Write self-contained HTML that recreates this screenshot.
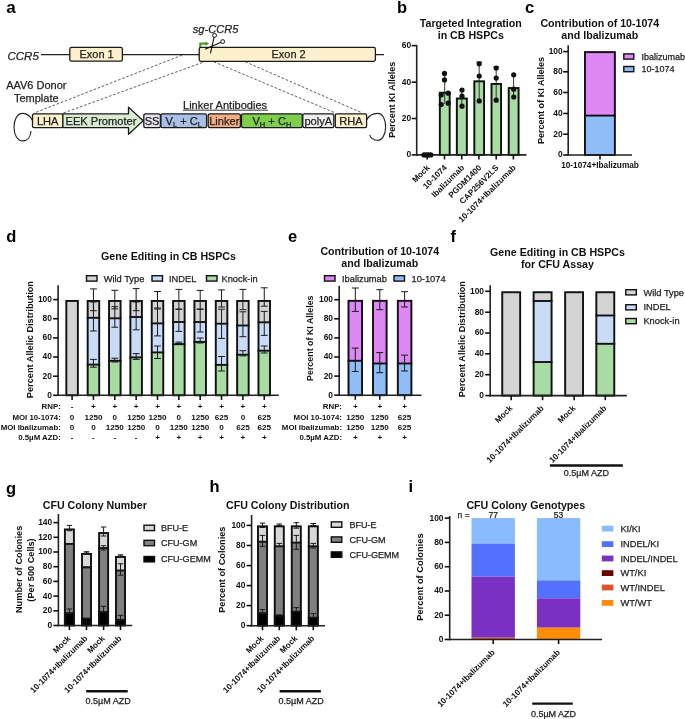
<!DOCTYPE html>
<html><head><meta charset="utf-8"><style>
html,body{margin:0;padding:0;background:#fff;}
svg{display:block;font-family:"Liberation Sans", sans-serif;will-change:transform;}
</style></head><body>
<svg width="685" height="719" viewBox="0 0 685 719">
<text x="6.2" y="13.2" font-size="17" font-weight="bold" text-anchor="start" fill="#000" >a</text>
<text x="7.5" y="60" font-size="11.5" font-style="italic" text-anchor="start" fill="#222" stroke="#222" stroke-width="0.25" >CCR5</text>
<line x1="41" y1="54.6" x2="384" y2="54.6" stroke="#222" stroke-width="1.1" />
<rect x="69.8" y="47.4" width="52.6" height="13.8" fill="#fdf0cc" stroke="#1a1a1a" stroke-width="1.3" rx="1.8"/>
<text x="96.6" y="58.1" font-size="11" text-anchor="middle" fill="#222" stroke="#222" stroke-width="0.25" >Exon 1</text>
<line x1="182" y1="55.2" x2="33.8" y2="113.2" stroke="#333" stroke-width="0.8" stroke-dasharray="2.6,1.8"/>
<line x1="202.4" y1="62.5" x2="62.9" y2="113.2" stroke="#333" stroke-width="0.8" stroke-dasharray="2.6,1.8"/>
<line x1="213.8" y1="61.8" x2="334.5" y2="112.6" stroke="#333" stroke-width="0.8" stroke-dasharray="2.6,1.8"/>
<line x1="245.3" y1="61.8" x2="361.5" y2="112.6" stroke="#333" stroke-width="0.8" stroke-dasharray="2.6,1.8"/>
<rect x="199.2" y="47.4" width="176.2" height="13.9" fill="#fdf0cc" stroke="#1a1a1a" stroke-width="1.3" rx="1.8"/>
<text x="288.6" y="58.1" font-size="11" text-anchor="middle" fill="#222" stroke="#222" stroke-width="0.25" >Exon 2</text>
<text x="192.8" y="32.9" font-size="11.1" font-style="italic" text-anchor="start" fill="#222" stroke="#222" stroke-width="0.25" >sg-CCR5</text>
<path d="M200.3,47 L200.3,43.6 L206,43.6" fill="none" stroke="#4e9a2e" stroke-width="2.2"/>
<path d="M205.5,41.4 L209.2,43.6 L205.5,45.8 Z" fill="#4e9a2e"/>
<path d="M210.4,53.3 L214.1,37.1" fill="none" stroke="#111" stroke-width="1.1"/>
<path d="M205,49.3 L221.1,42.3" fill="none" stroke="#111" stroke-width="1.1"/>
<circle cx="214.6" cy="35.4" r="1.95" fill="#fff" stroke="#111" stroke-width="1"/>
<circle cx="222.7" cy="41.6" r="1.95" fill="#fff" stroke="#111" stroke-width="1"/>
<text x="36.3" y="88.8" font-size="11" text-anchor="middle" fill="#222" stroke="#222" stroke-width="0.25" >AAV6 Donor</text>
<text x="36.3" y="102.2" font-size="11" text-anchor="middle" fill="#222" stroke="#222" stroke-width="0.25" >Template</text>
<text x="183" y="108.6" font-size="11.05" text-anchor="start" fill="#222" stroke="#222" stroke-width="0.25" >Linker Antibodies</text>
<line x1="183" y1="110.2" x2="268" y2="110.2" stroke="#222" stroke-width="0.9" />
<path d="M32.3,120.3 C30,115.5 26.5,113.4 22.8,113.4 C17,113.4 14,120 14,127.2 C14,135 17.5,140.9 22.8,140.9 C27.5,140.9 30.6,137 31,131" fill="none" stroke="#222" stroke-width="1.1"/>
<path d="M366.8,119.8 C369,115.5 373.5,113.4 377.6,113.4 C383,113.4 385.6,120 385.6,127 C385.6,135 382,140.3 377.6,140.3 C373.6,140.3 370.8,138 369.6,134.9" fill="none" stroke="#222" stroke-width="1.1"/>
<rect x="32.5" y="113.8" width="30.4" height="13.8" fill="#fdf0cc" stroke="#1a1a1a" stroke-width="1.3" rx="1.6"/>
<text x="47.7" y="124.6" font-size="11.1" text-anchor="middle" fill="#222" stroke="#222" stroke-width="0.25" >LHA</text>
<path d="M62.9,113.8 L128.5,113.8 L128.5,107.2 L143.2,120.7 L128.5,134.2 L128.5,127.6 L62.9,127.6 Z" fill="#d8ecd2" stroke="#1a1a1a" stroke-width="1.3" stroke-linejoin="round"/>
<text x="65.5" y="124.6" font-size="11.1" text-anchor="start" fill="#222" stroke="#222" stroke-width="0.25" >EEK Promoter</text>
<rect x="143.8" y="113.8" width="16.6" height="13.8" fill="#e7e1f1" stroke="#1a1a1a" stroke-width="1.3" rx="1.6"/>
<text x="152.1" y="124.6" font-size="11.1" text-anchor="middle" fill="#222" stroke="#222" stroke-width="0.25" >SS</text>
<rect x="160.9" y="113.8" width="45.7" height="13.8" fill="#a9bfe6" stroke="#1a1a1a" stroke-width="1.3" rx="1.6"/>
<text x="183.7" y="124.6" font-size="11.1" text-anchor="middle" fill="#222" stroke="#222" stroke-width="0.25" >V<tspan font-size="7.5" dy="2.2">L</tspan><tspan dy="-2.2"> + C</tspan><tspan font-size="7.5" dy="2.2">L</tspan></text>
<rect x="208.2" y="113.8" width="32.2" height="13.8" fill="#f5ae82" stroke="#1a1a1a" stroke-width="1.3" rx="1.6"/>
<text x="224.3" y="124.6" font-size="11.1" text-anchor="middle" fill="#222" stroke="#222" stroke-width="0.25" >Linker</text>
<rect x="241.5" y="113.8" width="60.8" height="13.8" fill="#7ecf4b" stroke="#1a1a1a" stroke-width="1.3" rx="1.6"/>
<text x="271.9" y="124.6" font-size="11.1" text-anchor="middle" fill="#222" stroke="#222" stroke-width="0.25" >V<tspan font-size="7.5" dy="2.2">H</tspan><tspan dy="-2.2"> + C</tspan><tspan font-size="7.5" dy="2.2">H</tspan></text>
<rect x="302.8" y="113.8" width="31" height="13.8" fill="#efefef" stroke="#1a1a1a" stroke-width="1.3" rx="1.6"/>
<text x="318.3" y="124.6" font-size="11.1" text-anchor="middle" fill="#222" stroke="#222" stroke-width="0.25" >polyA</text>
<rect x="335.3" y="113.8" width="31.3" height="13.8" fill="#fdf0cc" stroke="#1a1a1a" stroke-width="1.3" rx="1.6"/>
<text x="351" y="124.6" font-size="11.1" text-anchor="middle" fill="#222" stroke="#222" stroke-width="0.25" >RHA</text>
<text x="397" y="12.8" font-size="16.5" font-weight="bold" text-anchor="start" fill="#000" >b</text>
<text x="470.8" y="27.2" font-size="10.65" font-weight="bold" text-anchor="middle" fill="#111" >Targeted Integration</text>
<text x="470.8" y="38.6" font-size="10.65" font-weight="bold" text-anchor="middle" fill="#111" >in CB HSPCs</text>
<rect x="438.9" y="91.8" width="11.700000000000045" height="63.10000000000001" fill="#a8dca4" stroke="none"/>
<rect x="439.84999999999997" y="92.75" width="9.800000000000045" height="62.150000000000006" fill="none" stroke="#111" stroke-width="1.9"/>
<rect x="455.9" y="97.6" width="11.900000000000034" height="57.30000000000001" fill="#a8dca4" stroke="none"/>
<rect x="456.84999999999997" y="98.55" width="10.000000000000034" height="56.35000000000001" fill="none" stroke="#111" stroke-width="1.9"/>
<rect x="473.4" y="80.4" width="11.600000000000023" height="74.5" fill="#a8dca4" stroke="none"/>
<rect x="474.34999999999997" y="81.35000000000001" width="9.700000000000022" height="73.55" fill="none" stroke="#111" stroke-width="1.9"/>
<rect x="490.6" y="83" width="11.399999999999977" height="71.9" fill="#a8dca4" stroke="none"/>
<rect x="491.55" y="83.95" width="9.499999999999977" height="70.95" fill="none" stroke="#111" stroke-width="1.9"/>
<rect x="507.8" y="87.1" width="11.699999999999989" height="67.80000000000001" fill="#a8dca4" stroke="none"/>
<rect x="508.75" y="88.05" width="9.799999999999988" height="66.85000000000001" fill="none" stroke="#111" stroke-width="1.9"/>
<line x1="444.7" y1="74" x2="444.7" y2="104" stroke="#222" stroke-width="0.9" />
<line x1="461.8" y1="90" x2="461.8" y2="105" stroke="#222" stroke-width="0.9" />
<line x1="479.2" y1="62" x2="479.2" y2="101" stroke="#222" stroke-width="0.9" />
<line x1="496.2" y1="67" x2="496.2" y2="100" stroke="#222" stroke-width="0.9" />
<line x1="513.6" y1="74" x2="513.6" y2="98" stroke="#222" stroke-width="0.9" />
<line x1="476.2" y1="62" x2="482.2" y2="62" stroke="#222" stroke-width="0.9" />
<line x1="493.2" y1="66.9" x2="499.2" y2="66.9" stroke="#222" stroke-width="0.9" />
<line x1="416.7" y1="45" x2="416.7" y2="155.70000000000002" stroke="#222" stroke-width="1.6" />
<line x1="411.7" y1="45.6" x2="416.7" y2="45.6" stroke="#111" stroke-width="1.6" />
<text x="411.2" y="48.0" font-size="8.4" font-weight="bold" text-anchor="end" fill="#111" >60</text>
<line x1="411.7" y1="82.2" x2="416.7" y2="82.2" stroke="#111" stroke-width="1.6" />
<text x="411.2" y="84.60000000000001" font-size="8.4" font-weight="bold" text-anchor="end" fill="#111" >40</text>
<line x1="411.7" y1="118.5" x2="416.7" y2="118.5" stroke="#111" stroke-width="1.6" />
<text x="411.2" y="120.9" font-size="8.4" font-weight="bold" text-anchor="end" fill="#111" >20</text>
<line x1="411.7" y1="154.9" x2="416.7" y2="154.9" stroke="#111" stroke-width="1.6" />
<text x="411.2" y="157.3" font-size="8.4" font-weight="bold" text-anchor="end" fill="#111" >0</text>
<line x1="415.9" y1="154.9" x2="526.5" y2="154.9" stroke="#222" stroke-width="1.6" />
<line x1="427.2" y1="154.9" x2="427.2" y2="159.5" stroke="#111" stroke-width="1.6" />
<line x1="444.5" y1="154.9" x2="444.5" y2="159.5" stroke="#111" stroke-width="1.6" />
<line x1="461.7" y1="154.9" x2="461.7" y2="159.5" stroke="#111" stroke-width="1.6" />
<line x1="478.9" y1="154.9" x2="478.9" y2="159.5" stroke="#111" stroke-width="1.6" />
<line x1="496.2" y1="154.9" x2="496.2" y2="159.5" stroke="#111" stroke-width="1.6" />
<line x1="513.4" y1="154.9" x2="513.4" y2="159.5" stroke="#111" stroke-width="1.6" />
<circle cx="444.5" cy="73.4" r="2.6" fill="#111"/>
<circle cx="444.5" cy="79.9" r="2.6" fill="#111"/>
<circle cx="441.2" cy="95" r="2.6" fill="#111"/>
<circle cx="448.2" cy="93.2" r="2.6" fill="#111"/>
<circle cx="441.2" cy="104.6" r="2.6" fill="#111"/>
<circle cx="448.2" cy="103.2" r="2.6" fill="#111"/>
<circle cx="462" cy="90" r="2.6" fill="#111"/>
<circle cx="462" cy="96.2" r="2.6" fill="#111"/>
<circle cx="462" cy="106.2" r="2.6" fill="#111"/>
<circle cx="479.2" cy="63.8" r="2.6" fill="#111"/>
<circle cx="479.2" cy="76" r="2.6" fill="#111"/>
<circle cx="479.2" cy="100.9" r="2.6" fill="#111"/>
<circle cx="496.2" cy="68.1" r="2.6" fill="#111"/>
<circle cx="496.2" cy="78.1" r="2.6" fill="#111"/>
<circle cx="496.2" cy="100.2" r="2.6" fill="#111"/>
<circle cx="513.7" cy="74.8" r="2.6" fill="#111"/>
<circle cx="513.7" cy="89.2" r="2.6" fill="#111"/>
<circle cx="513.7" cy="97" r="2.6" fill="#111"/>
<circle cx="424" cy="154.9" r="2.6" fill="#111"/>
<circle cx="426.2" cy="154.9" r="2.6" fill="#111"/>
<circle cx="428.4" cy="154.9" r="2.6" fill="#111"/>
<circle cx="430.8" cy="154.9" r="2.6" fill="#111"/>
<text transform="translate(394.9,99.7) rotate(-90)" font-size="9.05" font-weight="bold" text-anchor="middle" fill="#111">Percent KI Alleles</text>
<text transform="translate(430.2,168.2) rotate(-45)" font-size="8.2" font-weight="bold" text-anchor="end" fill="#111">Mock</text>
<text transform="translate(447.5,168.2) rotate(-45)" font-size="8.2" font-weight="bold" text-anchor="end" fill="#111">10-1074</text>
<text transform="translate(464.7,168.2) rotate(-45)" font-size="8.2" font-weight="bold" text-anchor="end" fill="#111">Ibalizumab</text>
<text transform="translate(481.9,168.2) rotate(-45)" font-size="8.2" font-weight="bold" text-anchor="end" fill="#111">PGDM1400</text>
<text transform="translate(499.2,168.2) rotate(-45)" font-size="8.2" font-weight="bold" text-anchor="end" fill="#111">CAP256V2LS</text>
<text transform="translate(516.4,168.2) rotate(-45)" font-size="8.2" font-weight="bold" text-anchor="end" fill="#111">10-1074+Ibalizumab</text>
<text x="525" y="12.8" font-size="16.5" font-weight="bold" text-anchor="start" fill="#000" >c</text>
<text x="599.8" y="26.8" font-size="10.65" font-weight="bold" text-anchor="middle" fill="#111" >Contribution of 10-1074</text>
<text x="599.8" y="38.8" font-size="10.65" font-weight="bold" text-anchor="middle" fill="#111" >and Ibalizumab</text>
<rect x="584" y="115.6" width="31.799999999999955" height="39.400000000000006" fill="#8fbdf7" stroke="none"/>
<rect x="584" y="51.2" width="31.799999999999955" height="64.39999999999999" fill="#dd88f5" stroke="none"/>
<line x1="584" y1="115.6" x2="615.8" y2="115.6" stroke="#111" stroke-width="1.9" />
<rect x="584.95" y="52.150000000000006" width="29.899999999999956" height="102.85" fill="none" stroke="#111" stroke-width="1.9"/>
<line x1="568.2" y1="45.3" x2="568.2" y2="155.8" stroke="#222" stroke-width="1.6" />
<line x1="563.2" y1="51.6" x2="568.2" y2="51.6" stroke="#111" stroke-width="1.6" />
<text x="562.7" y="54.0" font-size="8.4" font-weight="bold" text-anchor="end" fill="#111" >100</text>
<line x1="563.2" y1="71.8" x2="568.2" y2="71.8" stroke="#111" stroke-width="1.6" />
<text x="562.7" y="74.2" font-size="8.4" font-weight="bold" text-anchor="end" fill="#111" >80</text>
<line x1="563.2" y1="92.5" x2="568.2" y2="92.5" stroke="#111" stroke-width="1.6" />
<text x="562.7" y="94.9" font-size="8.4" font-weight="bold" text-anchor="end" fill="#111" >60</text>
<line x1="563.2" y1="113.5" x2="568.2" y2="113.5" stroke="#111" stroke-width="1.6" />
<text x="562.7" y="115.9" font-size="8.4" font-weight="bold" text-anchor="end" fill="#111" >40</text>
<line x1="563.2" y1="134.2" x2="568.2" y2="134.2" stroke="#111" stroke-width="1.6" />
<text x="562.7" y="136.6" font-size="8.4" font-weight="bold" text-anchor="end" fill="#111" >20</text>
<line x1="563.2" y1="155" x2="568.2" y2="155" stroke="#111" stroke-width="1.6" />
<text x="562.7" y="157.4" font-size="8.4" font-weight="bold" text-anchor="end" fill="#111" >0</text>
<line x1="567.4000000000001" y1="155" x2="632" y2="155" stroke="#222" stroke-width="1.6" />
<line x1="600" y1="155" x2="600" y2="159.6" stroke="#111" stroke-width="1.6" />
<text x="600" y="167.8" font-size="8.25" font-weight="bold" text-anchor="middle" fill="#111" >10-1074+Ibalizumab</text>
<text transform="translate(544.2,100.5) rotate(-90)" font-size="9.05" font-weight="bold" text-anchor="middle" fill="#111">Percent of KI Alleles</text>
<rect x="623.8" y="53.900000000000006" width="10" height="5.199999999999999" fill="#dd88f5" stroke="#111" stroke-width="1.4"/>
<rect x="623.8" y="66.5" width="10" height="5.199999999999999" fill="#8fbdf7" stroke="#111" stroke-width="1.4"/>
<text x="641.6" y="59.6" font-size="9.0" text-anchor="start" fill="#222" stroke="#222" stroke-width="0.25" >Ibalizumab</text>
<text x="641.6" y="72" font-size="9.0" text-anchor="start" fill="#222" stroke="#222" stroke-width="0.25" >10-1074</text>
<text x="6.2" y="242" font-size="16.5" font-weight="bold" text-anchor="start" fill="#000" >d</text>
<text x="168.5" y="259.5" font-size="10.65" font-weight="bold" text-anchor="middle" fill="#111" >Gene Editing in CB HSPCs</text>
<rect x="86.5" y="275.7" width="10.5" height="5.3999999999999995" fill="#d4d4d4" stroke="#111" stroke-width="1.4"/>
<text x="103.7" y="281.8" font-size="9.3" text-anchor="start" fill="#222" stroke="#222" stroke-width="0.25" >Wild Type</text>
<rect x="152" y="275.7" width="10.5" height="5.3999999999999995" fill="#c8dcf8" stroke="#111" stroke-width="1.4"/>
<text x="169" y="281.8" font-size="9.3" text-anchor="start" fill="#222" stroke="#222" stroke-width="0.25" >INDEL</text>
<rect x="206.5" y="275.7" width="10.5" height="5.3999999999999995" fill="#a8dca4" stroke="#111" stroke-width="1.4"/>
<text x="221.5" y="281.8" font-size="9.3" text-anchor="start" fill="#222" stroke="#222" stroke-width="0.25" >Knock-in</text>
<rect x="65.39999999999999" y="300.0" width="13.400000000000006" height="95.30000000000001" fill="#d4d4d4" stroke="none"/>
<rect x="66.35" y="300.95" width="11.500000000000005" height="94.35000000000001" fill="none" stroke="#111" stroke-width="1.9"/>
<rect x="86.74999999999999" y="364.6" width="13.400000000000006" height="30.69999999999999" fill="#a8dca4" stroke="none"/>
<rect x="86.74999999999999" y="317.8" width="13.400000000000006" height="46.80000000000001" fill="#c8dcf8" stroke="none"/>
<rect x="86.74999999999999" y="300.0" width="13.400000000000006" height="17.80000000000001" fill="#d4d4d4" stroke="none"/>
<line x1="86.74999999999999" y1="364.6" x2="100.14999999999999" y2="364.6" stroke="#111" stroke-width="1.9" />
<line x1="86.74999999999999" y1="317.8" x2="100.14999999999999" y2="317.8" stroke="#111" stroke-width="1.9" />
<rect x="87.69999999999999" y="300.95" width="11.500000000000005" height="94.35000000000001" fill="none" stroke="#111" stroke-width="1.9"/>
<rect x="108.1" y="360.8" width="13.400000000000006" height="34.5" fill="#a8dca4" stroke="none"/>
<rect x="108.1" y="318.3" width="13.400000000000006" height="42.5" fill="#c8dcf8" stroke="none"/>
<rect x="108.1" y="300.0" width="13.400000000000006" height="18.30000000000001" fill="#d4d4d4" stroke="none"/>
<line x1="108.1" y1="360.8" x2="121.5" y2="360.8" stroke="#111" stroke-width="1.9" />
<line x1="108.1" y1="318.3" x2="121.5" y2="318.3" stroke="#111" stroke-width="1.9" />
<rect x="109.05" y="300.95" width="11.500000000000005" height="94.35000000000001" fill="none" stroke="#111" stroke-width="1.9"/>
<rect x="129.45000000000002" y="357.4" width="13.399999999999977" height="37.900000000000034" fill="#a8dca4" stroke="none"/>
<rect x="129.45000000000002" y="317.0" width="13.399999999999977" height="40.39999999999998" fill="#c8dcf8" stroke="none"/>
<rect x="129.45000000000002" y="300.0" width="13.399999999999977" height="17.0" fill="#d4d4d4" stroke="none"/>
<line x1="129.45000000000002" y1="357.4" x2="142.85" y2="357.4" stroke="#111" stroke-width="1.9" />
<line x1="129.45000000000002" y1="317.0" x2="142.85" y2="317.0" stroke="#111" stroke-width="1.9" />
<rect x="130.4" y="300.95" width="11.499999999999977" height="94.35000000000001" fill="none" stroke="#111" stroke-width="1.9"/>
<rect x="150.8" y="352.4" width="13.399999999999977" height="42.900000000000034" fill="#a8dca4" stroke="none"/>
<rect x="150.8" y="323.4" width="13.399999999999977" height="29.0" fill="#c8dcf8" stroke="none"/>
<rect x="150.8" y="300.0" width="13.399999999999977" height="23.399999999999977" fill="#d4d4d4" stroke="none"/>
<line x1="150.8" y1="352.4" x2="164.2" y2="352.4" stroke="#111" stroke-width="1.9" />
<line x1="150.8" y1="323.4" x2="164.2" y2="323.4" stroke="#111" stroke-width="1.9" />
<rect x="151.75" y="300.95" width="11.499999999999977" height="94.35000000000001" fill="none" stroke="#111" stroke-width="1.9"/>
<rect x="172.15" y="344.2" width="13.399999999999977" height="51.10000000000002" fill="#a8dca4" stroke="none"/>
<rect x="172.15" y="322.0" width="13.399999999999977" height="22.19999999999999" fill="#c8dcf8" stroke="none"/>
<rect x="172.15" y="300.0" width="13.399999999999977" height="22.0" fill="#d4d4d4" stroke="none"/>
<line x1="172.15" y1="344.2" x2="185.54999999999998" y2="344.2" stroke="#111" stroke-width="1.9" />
<line x1="172.15" y1="322.0" x2="185.54999999999998" y2="322.0" stroke="#111" stroke-width="1.9" />
<rect x="173.1" y="300.95" width="11.499999999999977" height="94.35000000000001" fill="none" stroke="#111" stroke-width="1.9"/>
<rect x="193.50000000000003" y="341.9" width="13.399999999999977" height="53.400000000000034" fill="#a8dca4" stroke="none"/>
<rect x="193.50000000000003" y="322.0" width="13.399999999999977" height="19.899999999999977" fill="#c8dcf8" stroke="none"/>
<rect x="193.50000000000003" y="300.0" width="13.399999999999977" height="22.0" fill="#d4d4d4" stroke="none"/>
<line x1="193.50000000000003" y1="341.9" x2="206.9" y2="341.9" stroke="#111" stroke-width="1.9" />
<line x1="193.50000000000003" y1="322.0" x2="206.9" y2="322.0" stroke="#111" stroke-width="1.9" />
<rect x="194.45000000000002" y="300.95" width="11.499999999999977" height="94.35000000000001" fill="none" stroke="#111" stroke-width="1.9"/>
<rect x="214.85000000000002" y="364.9" width="13.399999999999977" height="30.400000000000034" fill="#a8dca4" stroke="none"/>
<rect x="214.85000000000002" y="323.7" width="13.399999999999977" height="41.19999999999999" fill="#c8dcf8" stroke="none"/>
<rect x="214.85000000000002" y="300.0" width="13.399999999999977" height="23.69999999999999" fill="#d4d4d4" stroke="none"/>
<line x1="214.85000000000002" y1="364.9" x2="228.25" y2="364.9" stroke="#111" stroke-width="1.9" />
<line x1="214.85000000000002" y1="323.7" x2="228.25" y2="323.7" stroke="#111" stroke-width="1.9" />
<rect x="215.8" y="300.95" width="11.499999999999977" height="94.35000000000001" fill="none" stroke="#111" stroke-width="1.9"/>
<rect x="236.20000000000002" y="354.7" width="13.399999999999977" height="40.60000000000002" fill="#a8dca4" stroke="none"/>
<rect x="236.20000000000002" y="325.5" width="13.399999999999977" height="29.19999999999999" fill="#c8dcf8" stroke="none"/>
<rect x="236.20000000000002" y="300.0" width="13.399999999999977" height="25.5" fill="#d4d4d4" stroke="none"/>
<line x1="236.20000000000002" y1="354.7" x2="249.6" y2="354.7" stroke="#111" stroke-width="1.9" />
<line x1="236.20000000000002" y1="325.5" x2="249.6" y2="325.5" stroke="#111" stroke-width="1.9" />
<rect x="237.15" y="300.95" width="11.499999999999977" height="94.35000000000001" fill="none" stroke="#111" stroke-width="1.9"/>
<rect x="257.55" y="350.7" width="13.399999999999977" height="44.60000000000002" fill="#a8dca4" stroke="none"/>
<rect x="257.55" y="322.3" width="13.399999999999977" height="28.399999999999977" fill="#c8dcf8" stroke="none"/>
<rect x="257.55" y="300.0" width="13.399999999999977" height="22.30000000000001" fill="#d4d4d4" stroke="none"/>
<line x1="257.55" y1="350.7" x2="270.95" y2="350.7" stroke="#111" stroke-width="1.9" />
<line x1="257.55" y1="322.3" x2="270.95" y2="322.3" stroke="#111" stroke-width="1.9" />
<rect x="258.5" y="300.95" width="11.499999999999977" height="94.35000000000001" fill="none" stroke="#111" stroke-width="1.9"/>
<line x1="93.44999999999999" y1="288.9" x2="93.44999999999999" y2="310.7" stroke="#1a1a1a" stroke-width="1.0" />
<line x1="90.04999999999998" y1="288.9" x2="96.85" y2="288.9" stroke="#1a1a1a" stroke-width="1.0" />
<line x1="90.04999999999998" y1="310.7" x2="96.85" y2="310.7" stroke="#1a1a1a" stroke-width="1.0" />
<line x1="93.44999999999999" y1="302" x2="93.44999999999999" y2="331" stroke="#1a1a1a" stroke-width="1.0" />
<line x1="90.04999999999998" y1="302" x2="96.85" y2="302" stroke="#1a1a1a" stroke-width="1.0" />
<line x1="90.04999999999998" y1="331" x2="96.85" y2="331" stroke="#1a1a1a" stroke-width="1.0" />
<line x1="93.44999999999999" y1="359.4" x2="93.44999999999999" y2="367.2" stroke="#1a1a1a" stroke-width="1.0" />
<line x1="90.04999999999998" y1="359.4" x2="96.85" y2="359.4" stroke="#1a1a1a" stroke-width="1.0" />
<line x1="90.04999999999998" y1="367.2" x2="96.85" y2="367.2" stroke="#1a1a1a" stroke-width="1.0" />
<line x1="114.8" y1="290.3" x2="114.8" y2="308.9" stroke="#1a1a1a" stroke-width="1.0" />
<line x1="111.39999999999999" y1="290.3" x2="118.2" y2="290.3" stroke="#1a1a1a" stroke-width="1.0" />
<line x1="111.39999999999999" y1="308.9" x2="118.2" y2="308.9" stroke="#1a1a1a" stroke-width="1.0" />
<line x1="114.8" y1="306.7" x2="114.8" y2="327.2" stroke="#1a1a1a" stroke-width="1.0" />
<line x1="111.39999999999999" y1="306.7" x2="118.2" y2="306.7" stroke="#1a1a1a" stroke-width="1.0" />
<line x1="111.39999999999999" y1="327.2" x2="118.2" y2="327.2" stroke="#1a1a1a" stroke-width="1.0" />
<line x1="114.8" y1="358.2" x2="114.8" y2="362" stroke="#1a1a1a" stroke-width="1.0" />
<line x1="111.39999999999999" y1="358.2" x2="118.2" y2="358.2" stroke="#1a1a1a" stroke-width="1.0" />
<line x1="111.39999999999999" y1="362" x2="118.2" y2="362" stroke="#1a1a1a" stroke-width="1.0" />
<line x1="136.15" y1="288.6" x2="136.15" y2="310.7" stroke="#1a1a1a" stroke-width="1.0" />
<line x1="132.75" y1="288.6" x2="139.55" y2="288.6" stroke="#1a1a1a" stroke-width="1.0" />
<line x1="132.75" y1="310.7" x2="139.55" y2="310.7" stroke="#1a1a1a" stroke-width="1.0" />
<line x1="136.15" y1="302" x2="136.15" y2="329.8" stroke="#1a1a1a" stroke-width="1.0" />
<line x1="132.75" y1="302" x2="139.55" y2="302" stroke="#1a1a1a" stroke-width="1.0" />
<line x1="132.75" y1="329.8" x2="139.55" y2="329.8" stroke="#1a1a1a" stroke-width="1.0" />
<line x1="136.15" y1="353.6" x2="136.15" y2="359.4" stroke="#1a1a1a" stroke-width="1.0" />
<line x1="132.75" y1="353.6" x2="139.55" y2="353.6" stroke="#1a1a1a" stroke-width="1.0" />
<line x1="132.75" y1="359.4" x2="139.55" y2="359.4" stroke="#1a1a1a" stroke-width="1.0" />
<line x1="157.5" y1="291.5" x2="157.5" y2="309" stroke="#1a1a1a" stroke-width="1.0" />
<line x1="154.1" y1="291.5" x2="160.9" y2="291.5" stroke="#1a1a1a" stroke-width="1.0" />
<line x1="154.1" y1="309" x2="160.9" y2="309" stroke="#1a1a1a" stroke-width="1.0" />
<line x1="157.5" y1="308" x2="157.5" y2="335.9" stroke="#1a1a1a" stroke-width="1.0" />
<line x1="154.1" y1="308" x2="160.9" y2="308" stroke="#1a1a1a" stroke-width="1.0" />
<line x1="154.1" y1="335.9" x2="160.9" y2="335.9" stroke="#1a1a1a" stroke-width="1.0" />
<line x1="157.5" y1="346" x2="157.5" y2="358.5" stroke="#1a1a1a" stroke-width="1.0" />
<line x1="154.1" y1="346" x2="160.9" y2="346" stroke="#1a1a1a" stroke-width="1.0" />
<line x1="154.1" y1="358.5" x2="160.9" y2="358.5" stroke="#1a1a1a" stroke-width="1.0" />
<line x1="178.85" y1="289.4" x2="178.85" y2="309.2" stroke="#1a1a1a" stroke-width="1.0" />
<line x1="175.45" y1="289.4" x2="182.25" y2="289.4" stroke="#1a1a1a" stroke-width="1.0" />
<line x1="175.45" y1="309.2" x2="182.25" y2="309.2" stroke="#1a1a1a" stroke-width="1.0" />
<line x1="178.85" y1="309.2" x2="178.85" y2="331.4" stroke="#1a1a1a" stroke-width="1.0" />
<line x1="175.45" y1="309.2" x2="182.25" y2="309.2" stroke="#1a1a1a" stroke-width="1.0" />
<line x1="175.45" y1="331.4" x2="182.25" y2="331.4" stroke="#1a1a1a" stroke-width="1.0" />
<line x1="178.85" y1="342.1" x2="178.85" y2="343.5" stroke="#1a1a1a" stroke-width="1.0" />
<line x1="175.45" y1="342.1" x2="182.25" y2="342.1" stroke="#1a1a1a" stroke-width="1.0" />
<line x1="175.45" y1="343.5" x2="182.25" y2="343.5" stroke="#1a1a1a" stroke-width="1.0" />
<line x1="200.20000000000002" y1="290.4" x2="200.20000000000002" y2="309.2" stroke="#1a1a1a" stroke-width="1.0" />
<line x1="196.8" y1="290.4" x2="203.60000000000002" y2="290.4" stroke="#1a1a1a" stroke-width="1.0" />
<line x1="196.8" y1="309.2" x2="203.60000000000002" y2="309.2" stroke="#1a1a1a" stroke-width="1.0" />
<line x1="200.20000000000002" y1="309.2" x2="200.20000000000002" y2="332" stroke="#1a1a1a" stroke-width="1.0" />
<line x1="196.8" y1="309.2" x2="203.60000000000002" y2="309.2" stroke="#1a1a1a" stroke-width="1.0" />
<line x1="196.8" y1="332" x2="203.60000000000002" y2="332" stroke="#1a1a1a" stroke-width="1.0" />
<line x1="200.20000000000002" y1="338" x2="200.20000000000002" y2="343" stroke="#1a1a1a" stroke-width="1.0" />
<line x1="196.8" y1="338" x2="203.60000000000002" y2="338" stroke="#1a1a1a" stroke-width="1.0" />
<line x1="196.8" y1="343" x2="203.60000000000002" y2="343" stroke="#1a1a1a" stroke-width="1.0" />
<line x1="221.55" y1="289.9" x2="221.55" y2="307" stroke="#1a1a1a" stroke-width="1.0" />
<line x1="218.15" y1="289.9" x2="224.95000000000002" y2="289.9" stroke="#1a1a1a" stroke-width="1.0" />
<line x1="218.15" y1="307" x2="224.95000000000002" y2="307" stroke="#1a1a1a" stroke-width="1.0" />
<line x1="221.55" y1="309.2" x2="221.55" y2="338.4" stroke="#1a1a1a" stroke-width="1.0" />
<line x1="218.15" y1="309.2" x2="224.95000000000002" y2="309.2" stroke="#1a1a1a" stroke-width="1.0" />
<line x1="218.15" y1="338.4" x2="224.95000000000002" y2="338.4" stroke="#1a1a1a" stroke-width="1.0" />
<line x1="221.55" y1="356.5" x2="221.55" y2="371" stroke="#1a1a1a" stroke-width="1.0" />
<line x1="218.15" y1="356.5" x2="224.95000000000002" y2="356.5" stroke="#1a1a1a" stroke-width="1.0" />
<line x1="218.15" y1="371" x2="224.95000000000002" y2="371" stroke="#1a1a1a" stroke-width="1.0" />
<line x1="242.9" y1="289.4" x2="242.9" y2="309.7" stroke="#1a1a1a" stroke-width="1.0" />
<line x1="239.5" y1="289.4" x2="246.3" y2="289.4" stroke="#1a1a1a" stroke-width="1.0" />
<line x1="239.5" y1="309.7" x2="246.3" y2="309.7" stroke="#1a1a1a" stroke-width="1.0" />
<line x1="242.9" y1="311.8" x2="242.9" y2="336.7" stroke="#1a1a1a" stroke-width="1.0" />
<line x1="239.5" y1="311.8" x2="246.3" y2="311.8" stroke="#1a1a1a" stroke-width="1.0" />
<line x1="239.5" y1="336.7" x2="246.3" y2="336.7" stroke="#1a1a1a" stroke-width="1.0" />
<line x1="242.9" y1="350.7" x2="242.9" y2="355.9" stroke="#1a1a1a" stroke-width="1.0" />
<line x1="239.5" y1="350.7" x2="246.3" y2="350.7" stroke="#1a1a1a" stroke-width="1.0" />
<line x1="239.5" y1="355.9" x2="246.3" y2="355.9" stroke="#1a1a1a" stroke-width="1.0" />
<line x1="264.25" y1="287.8" x2="264.25" y2="306.2" stroke="#1a1a1a" stroke-width="1.0" />
<line x1="260.85" y1="287.8" x2="267.65" y2="287.8" stroke="#1a1a1a" stroke-width="1.0" />
<line x1="260.85" y1="306.2" x2="267.65" y2="306.2" stroke="#1a1a1a" stroke-width="1.0" />
<line x1="264.25" y1="311.4" x2="264.25" y2="335.4" stroke="#1a1a1a" stroke-width="1.0" />
<line x1="260.85" y1="311.4" x2="267.65" y2="311.4" stroke="#1a1a1a" stroke-width="1.0" />
<line x1="260.85" y1="335.4" x2="267.65" y2="335.4" stroke="#1a1a1a" stroke-width="1.0" />
<line x1="264.25" y1="346" x2="264.25" y2="353" stroke="#1a1a1a" stroke-width="1.0" />
<line x1="260.85" y1="346" x2="267.65" y2="346" stroke="#1a1a1a" stroke-width="1.0" />
<line x1="260.85" y1="353" x2="267.65" y2="353" stroke="#1a1a1a" stroke-width="1.0" />
<line x1="58.1" y1="285.2" x2="58.1" y2="396.1" stroke="#222" stroke-width="1.6" />
<line x1="53.1" y1="299.6" x2="58.1" y2="299.6" stroke="#111" stroke-width="1.6" />
<text x="51.9" y="302.0" font-size="8.4" font-weight="bold" text-anchor="end" fill="#111" >100</text>
<line x1="53.1" y1="318.7" x2="58.1" y2="318.7" stroke="#111" stroke-width="1.6" />
<text x="51.9" y="321.09999999999997" font-size="8.4" font-weight="bold" text-anchor="end" fill="#111" >80</text>
<line x1="53.1" y1="337.9" x2="58.1" y2="337.9" stroke="#111" stroke-width="1.6" />
<text x="51.9" y="340.29999999999995" font-size="8.4" font-weight="bold" text-anchor="end" fill="#111" >60</text>
<line x1="53.1" y1="357.0" x2="58.1" y2="357.0" stroke="#111" stroke-width="1.6" />
<text x="51.9" y="359.4" font-size="8.4" font-weight="bold" text-anchor="end" fill="#111" >40</text>
<line x1="53.1" y1="376.2" x2="58.1" y2="376.2" stroke="#111" stroke-width="1.6" />
<text x="51.9" y="378.59999999999997" font-size="8.4" font-weight="bold" text-anchor="end" fill="#111" >20</text>
<line x1="53.1" y1="395.3" x2="58.1" y2="395.3" stroke="#111" stroke-width="1.6" />
<text x="51.9" y="397.7" font-size="8.4" font-weight="bold" text-anchor="end" fill="#111" >0</text>
<line x1="57.300000000000004" y1="395.3" x2="278.8" y2="395.3" stroke="#222" stroke-width="1.6" />
<line x1="72.1" y1="395.3" x2="72.1" y2="399.90000000000003" stroke="#111" stroke-width="1.6" />
<line x1="93.44999999999999" y1="395.3" x2="93.44999999999999" y2="399.90000000000003" stroke="#111" stroke-width="1.6" />
<line x1="114.8" y1="395.3" x2="114.8" y2="399.90000000000003" stroke="#111" stroke-width="1.6" />
<line x1="136.15" y1="395.3" x2="136.15" y2="399.90000000000003" stroke="#111" stroke-width="1.6" />
<line x1="157.5" y1="395.3" x2="157.5" y2="399.90000000000003" stroke="#111" stroke-width="1.6" />
<line x1="178.85" y1="395.3" x2="178.85" y2="399.90000000000003" stroke="#111" stroke-width="1.6" />
<line x1="200.20000000000002" y1="395.3" x2="200.20000000000002" y2="399.90000000000003" stroke="#111" stroke-width="1.6" />
<line x1="221.55" y1="395.3" x2="221.55" y2="399.90000000000003" stroke="#111" stroke-width="1.6" />
<line x1="242.9" y1="395.3" x2="242.9" y2="399.90000000000003" stroke="#111" stroke-width="1.6" />
<line x1="264.25" y1="395.3" x2="264.25" y2="399.90000000000003" stroke="#111" stroke-width="1.6" />
<text transform="translate(32.8,339.6) rotate(-90)" font-size="9.2" font-weight="bold" text-anchor="middle" fill="#111">Percent Allelic Distribution</text>
<text x="60.8" y="409.2" font-size="7.85" font-weight="bold" text-anchor="end" fill="#111" >RNP:</text>
<text x="72.1" y="409.2" font-size="8.1" font-weight="bold" text-anchor="middle" fill="#111" >-</text>
<text x="93.44999999999999" y="409.2" font-size="8.1" font-weight="bold" text-anchor="middle" fill="#111" >+</text>
<text x="114.8" y="409.2" font-size="8.1" font-weight="bold" text-anchor="middle" fill="#111" >+</text>
<text x="136.15" y="409.2" font-size="8.1" font-weight="bold" text-anchor="middle" fill="#111" >+</text>
<text x="157.5" y="409.2" font-size="8.1" font-weight="bold" text-anchor="middle" fill="#111" >+</text>
<text x="178.85" y="409.2" font-size="8.1" font-weight="bold" text-anchor="middle" fill="#111" >+</text>
<text x="200.20000000000002" y="409.2" font-size="8.1" font-weight="bold" text-anchor="middle" fill="#111" >+</text>
<text x="221.55" y="409.2" font-size="8.1" font-weight="bold" text-anchor="middle" fill="#111" >+</text>
<text x="242.9" y="409.2" font-size="8.1" font-weight="bold" text-anchor="middle" fill="#111" >+</text>
<text x="264.25" y="409.2" font-size="8.1" font-weight="bold" text-anchor="middle" fill="#111" >+</text>
<text x="60.8" y="420" font-size="7.85" font-weight="bold" text-anchor="end" fill="#111" >MOI 10-1074:</text>
<text x="72.1" y="420" font-size="8.1" font-weight="bold" text-anchor="middle" fill="#111" >0</text>
<text x="93.44999999999999" y="420" font-size="8.1" font-weight="bold" text-anchor="middle" fill="#111" >1250</text>
<text x="114.8" y="420" font-size="8.1" font-weight="bold" text-anchor="middle" fill="#111" >0</text>
<text x="136.15" y="420" font-size="8.1" font-weight="bold" text-anchor="middle" fill="#111" >1250</text>
<text x="157.5" y="420" font-size="8.1" font-weight="bold" text-anchor="middle" fill="#111" >1250</text>
<text x="178.85" y="420" font-size="8.1" font-weight="bold" text-anchor="middle" fill="#111" >0</text>
<text x="200.20000000000002" y="420" font-size="8.1" font-weight="bold" text-anchor="middle" fill="#111" >1250</text>
<text x="221.55" y="420" font-size="8.1" font-weight="bold" text-anchor="middle" fill="#111" >625</text>
<text x="242.9" y="420" font-size="8.1" font-weight="bold" text-anchor="middle" fill="#111" >0</text>
<text x="264.25" y="420" font-size="8.1" font-weight="bold" text-anchor="middle" fill="#111" >625</text>
<text x="60.8" y="430" font-size="7.85" font-weight="bold" text-anchor="end" fill="#111" >MOI Ibalizumab:</text>
<text x="72.1" y="430" font-size="8.1" font-weight="bold" text-anchor="middle" fill="#111" >0</text>
<text x="93.44999999999999" y="430" font-size="8.1" font-weight="bold" text-anchor="middle" fill="#111" >0</text>
<text x="114.8" y="430" font-size="8.1" font-weight="bold" text-anchor="middle" fill="#111" >1250</text>
<text x="136.15" y="430" font-size="8.1" font-weight="bold" text-anchor="middle" fill="#111" >1250</text>
<text x="157.5" y="430" font-size="8.1" font-weight="bold" text-anchor="middle" fill="#111" >0</text>
<text x="178.85" y="430" font-size="8.1" font-weight="bold" text-anchor="middle" fill="#111" >1250</text>
<text x="200.20000000000002" y="430" font-size="8.1" font-weight="bold" text-anchor="middle" fill="#111" >1250</text>
<text x="221.55" y="430" font-size="8.1" font-weight="bold" text-anchor="middle" fill="#111" >0</text>
<text x="242.9" y="430" font-size="8.1" font-weight="bold" text-anchor="middle" fill="#111" >625</text>
<text x="264.25" y="430" font-size="8.1" font-weight="bold" text-anchor="middle" fill="#111" >625</text>
<text x="60.8" y="440.2" font-size="7.85" font-weight="bold" text-anchor="end" fill="#111" >0.5µM AZD:</text>
<text x="72.1" y="440.2" font-size="8.1" font-weight="bold" text-anchor="middle" fill="#111" >-</text>
<text x="93.44999999999999" y="440.2" font-size="8.1" font-weight="bold" text-anchor="middle" fill="#111" >-</text>
<text x="114.8" y="440.2" font-size="8.1" font-weight="bold" text-anchor="middle" fill="#111" >-</text>
<text x="136.15" y="440.2" font-size="8.1" font-weight="bold" text-anchor="middle" fill="#111" >-</text>
<text x="157.5" y="440.2" font-size="8.1" font-weight="bold" text-anchor="middle" fill="#111" >+</text>
<text x="178.85" y="440.2" font-size="8.1" font-weight="bold" text-anchor="middle" fill="#111" >+</text>
<text x="200.20000000000002" y="440.2" font-size="8.1" font-weight="bold" text-anchor="middle" fill="#111" >+</text>
<text x="221.55" y="440.2" font-size="8.1" font-weight="bold" text-anchor="middle" fill="#111" >+</text>
<text x="242.9" y="440.2" font-size="8.1" font-weight="bold" text-anchor="middle" fill="#111" >+</text>
<text x="264.25" y="440.2" font-size="8.1" font-weight="bold" text-anchor="middle" fill="#111" >+</text>
<text x="288" y="242" font-size="16.5" font-weight="bold" text-anchor="start" fill="#000" >e</text>
<text x="379.8" y="255.3" font-size="10.65" font-weight="bold" text-anchor="middle" fill="#111" >Contribution of 10-1074</text>
<text x="379.8" y="267.3" font-size="10.65" font-weight="bold" text-anchor="middle" fill="#111" >and Ibalizumab</text>
<rect x="324.5" y="275.7" width="10.5" height="5.3999999999999995" fill="#dd88f5" stroke="#111" stroke-width="1.4"/>
<text x="342" y="281.8" font-size="9.3" text-anchor="start" fill="#222" stroke="#222" stroke-width="0.25" >Ibalizumab</text>
<rect x="394" y="275.7" width="10.5" height="5.3999999999999995" fill="#8fbdf7" stroke="#111" stroke-width="1.4"/>
<text x="411.5" y="281.8" font-size="9.3" text-anchor="start" fill="#222" stroke="#222" stroke-width="0.25" >10-1074</text>
<rect x="347.6" y="360.8" width="15.399999999999977" height="34.39999999999998" fill="#8fbdf7" stroke="none"/>
<rect x="347.6" y="299.9" width="15.399999999999977" height="60.900000000000034" fill="#dd88f5" stroke="none"/>
<line x1="347.6" y1="360.8" x2="363.0" y2="360.8" stroke="#111" stroke-width="1.9" />
<rect x="348.55" y="300.84999999999997" width="13.499999999999977" height="94.35000000000001" fill="none" stroke="#111" stroke-width="1.9"/>
<rect x="372.1" y="363.5" width="15.399999999999977" height="31.69999999999999" fill="#8fbdf7" stroke="none"/>
<rect x="372.1" y="299.9" width="15.399999999999977" height="63.60000000000002" fill="#dd88f5" stroke="none"/>
<line x1="372.1" y1="363.5" x2="387.5" y2="363.5" stroke="#111" stroke-width="1.9" />
<rect x="373.05" y="300.84999999999997" width="13.499999999999977" height="94.35000000000001" fill="none" stroke="#111" stroke-width="1.9"/>
<rect x="396.90000000000003" y="363.5" width="15.399999999999977" height="31.69999999999999" fill="#8fbdf7" stroke="none"/>
<rect x="396.90000000000003" y="299.9" width="15.399999999999977" height="63.60000000000002" fill="#dd88f5" stroke="none"/>
<line x1="396.90000000000003" y1="363.5" x2="412.3" y2="363.5" stroke="#111" stroke-width="1.9" />
<rect x="397.85" y="300.84999999999997" width="13.499999999999977" height="94.35000000000001" fill="none" stroke="#111" stroke-width="1.9"/>
<line x1="355.3" y1="288" x2="355.3" y2="311.4" stroke="#1a1a1a" stroke-width="1.0" />
<line x1="351.8" y1="288" x2="358.8" y2="288" stroke="#1a1a1a" stroke-width="1.0" />
<line x1="351.8" y1="311.4" x2="358.8" y2="311.4" stroke="#1a1a1a" stroke-width="1.0" />
<line x1="355.3" y1="348.1" x2="355.3" y2="371.5" stroke="#1a1a1a" stroke-width="1.0" />
<line x1="351.8" y1="348.1" x2="358.8" y2="348.1" stroke="#1a1a1a" stroke-width="1.0" />
<line x1="351.8" y1="371.5" x2="358.8" y2="371.5" stroke="#1a1a1a" stroke-width="1.0" />
<line x1="379.8" y1="289.7" x2="379.8" y2="309.7" stroke="#1a1a1a" stroke-width="1.0" />
<line x1="376.3" y1="289.7" x2="383.3" y2="289.7" stroke="#1a1a1a" stroke-width="1.0" />
<line x1="376.3" y1="309.7" x2="383.3" y2="309.7" stroke="#1a1a1a" stroke-width="1.0" />
<line x1="379.8" y1="352.6" x2="379.8" y2="372.7" stroke="#1a1a1a" stroke-width="1.0" />
<line x1="376.3" y1="352.6" x2="383.3" y2="352.6" stroke="#1a1a1a" stroke-width="1.0" />
<line x1="376.3" y1="372.7" x2="383.3" y2="372.7" stroke="#1a1a1a" stroke-width="1.0" />
<line x1="404.6" y1="291.7" x2="404.6" y2="307" stroke="#1a1a1a" stroke-width="1.0" />
<line x1="401.1" y1="291.7" x2="408.1" y2="291.7" stroke="#1a1a1a" stroke-width="1.0" />
<line x1="401.1" y1="307" x2="408.1" y2="307" stroke="#1a1a1a" stroke-width="1.0" />
<line x1="404.6" y1="355.1" x2="404.6" y2="371" stroke="#1a1a1a" stroke-width="1.0" />
<line x1="401.1" y1="355.1" x2="408.1" y2="355.1" stroke="#1a1a1a" stroke-width="1.0" />
<line x1="401.1" y1="371" x2="408.1" y2="371" stroke="#1a1a1a" stroke-width="1.0" />
<line x1="339.2" y1="285.8" x2="339.2" y2="396.0" stroke="#222" stroke-width="1.6" />
<line x1="334.2" y1="299.7" x2="339.2" y2="299.7" stroke="#111" stroke-width="1.6" />
<text x="333.0" y="302.09999999999997" font-size="8.4" font-weight="bold" text-anchor="end" fill="#111" >100</text>
<line x1="334.2" y1="318.8" x2="339.2" y2="318.8" stroke="#111" stroke-width="1.6" />
<text x="333.0" y="321.2" font-size="8.4" font-weight="bold" text-anchor="end" fill="#111" >80</text>
<line x1="334.2" y1="337.9" x2="339.2" y2="337.9" stroke="#111" stroke-width="1.6" />
<text x="333.0" y="340.29999999999995" font-size="8.4" font-weight="bold" text-anchor="end" fill="#111" >60</text>
<line x1="334.2" y1="357.0" x2="339.2" y2="357.0" stroke="#111" stroke-width="1.6" />
<text x="333.0" y="359.4" font-size="8.4" font-weight="bold" text-anchor="end" fill="#111" >40</text>
<line x1="334.2" y1="376.1" x2="339.2" y2="376.1" stroke="#111" stroke-width="1.6" />
<text x="333.0" y="378.5" font-size="8.4" font-weight="bold" text-anchor="end" fill="#111" >20</text>
<line x1="334.2" y1="395.2" x2="339.2" y2="395.2" stroke="#111" stroke-width="1.6" />
<text x="333.0" y="397.59999999999997" font-size="8.4" font-weight="bold" text-anchor="end" fill="#111" >0</text>
<line x1="338.4" y1="395.2" x2="421.5" y2="395.2" stroke="#222" stroke-width="1.6" />
<line x1="355.3" y1="395.2" x2="355.3" y2="399.8" stroke="#111" stroke-width="1.6" />
<line x1="379.8" y1="395.2" x2="379.8" y2="399.8" stroke="#111" stroke-width="1.6" />
<line x1="404.6" y1="395.2" x2="404.6" y2="399.8" stroke="#111" stroke-width="1.6" />
<text transform="translate(313.4,338.2) rotate(-90)" font-size="8.9" font-weight="bold" text-anchor="middle" fill="#111">Percent of KI Alleles</text>
<text x="342" y="409.2" font-size="7.85" font-weight="bold" text-anchor="end" fill="#111" >RNP:</text>
<text x="355.3" y="409.2" font-size="8.1" font-weight="bold" text-anchor="middle" fill="#111" >+</text>
<text x="379.8" y="409.2" font-size="8.1" font-weight="bold" text-anchor="middle" fill="#111" >+</text>
<text x="404.6" y="409.2" font-size="8.1" font-weight="bold" text-anchor="middle" fill="#111" >+</text>
<text x="342" y="420" font-size="7.85" font-weight="bold" text-anchor="end" fill="#111" >MOI 10-1074:</text>
<text x="355.3" y="420" font-size="8.1" font-weight="bold" text-anchor="middle" fill="#111" >1250</text>
<text x="379.8" y="420" font-size="8.1" font-weight="bold" text-anchor="middle" fill="#111" >1250</text>
<text x="404.6" y="420" font-size="8.1" font-weight="bold" text-anchor="middle" fill="#111" >625</text>
<text x="342" y="430" font-size="7.85" font-weight="bold" text-anchor="end" fill="#111" >MOI Ibalizumab:</text>
<text x="355.3" y="430" font-size="8.1" font-weight="bold" text-anchor="middle" fill="#111" >1250</text>
<text x="379.8" y="430" font-size="8.1" font-weight="bold" text-anchor="middle" fill="#111" >1250</text>
<text x="404.6" y="430" font-size="8.1" font-weight="bold" text-anchor="middle" fill="#111" >625</text>
<text x="342" y="440.2" font-size="7.85" font-weight="bold" text-anchor="end" fill="#111" >0.5µM AZD:</text>
<text x="355.3" y="440.2" font-size="8.1" font-weight="bold" text-anchor="middle" fill="#111" >+</text>
<text x="379.8" y="440.2" font-size="8.1" font-weight="bold" text-anchor="middle" fill="#111" >+</text>
<text x="404.6" y="440.2" font-size="8.1" font-weight="bold" text-anchor="middle" fill="#111" >+</text>
<text x="450.5" y="242" font-size="16.5" font-weight="bold" text-anchor="start" fill="#000" >f</text>
<text x="557.5" y="255.8" font-size="10.65" font-weight="bold" text-anchor="middle" fill="#111" >Gene Editing in CB HSPCs</text>
<text x="557.5" y="268" font-size="10.65" font-weight="bold" text-anchor="middle" fill="#111" >for CFU Assay</text>
<rect x="501.3" y="291.3" width="19.80000000000001" height="104.30000000000001" fill="#d4d4d4" stroke="none"/>
<rect x="502.25" y="292.25" width="17.900000000000013" height="103.35000000000001" fill="none" stroke="#111" stroke-width="1.9"/>
<rect x="532.7" y="362" width="19.799999999999955" height="33.60000000000002" fill="#a8dca4" stroke="none"/>
<rect x="532.7" y="301" width="19.799999999999955" height="61" fill="#c8dcf8" stroke="none"/>
<rect x="532.7" y="291.3" width="19.799999999999955" height="9.699999999999989" fill="#d4d4d4" stroke="none"/>
<line x1="532.7" y1="362" x2="552.5" y2="362" stroke="#111" stroke-width="1.9" />
<line x1="532.7" y1="301" x2="552.5" y2="301" stroke="#111" stroke-width="1.9" />
<rect x="533.6500000000001" y="292.25" width="17.899999999999956" height="103.35000000000001" fill="none" stroke="#111" stroke-width="1.9"/>
<rect x="564.2" y="291.3" width="19.799999999999955" height="104.30000000000001" fill="#d4d4d4" stroke="none"/>
<rect x="565.1500000000001" y="292.25" width="17.899999999999956" height="103.35000000000001" fill="none" stroke="#111" stroke-width="1.9"/>
<rect x="595.4" y="343.8" width="19.799999999999955" height="51.80000000000001" fill="#a8dca4" stroke="none"/>
<rect x="595.4" y="315.5" width="19.799999999999955" height="28.30000000000001" fill="#c8dcf8" stroke="none"/>
<rect x="595.4" y="291.3" width="19.799999999999955" height="24.19999999999999" fill="#d4d4d4" stroke="none"/>
<line x1="595.4" y1="343.8" x2="615.1999999999999" y2="343.8" stroke="#111" stroke-width="1.9" />
<line x1="595.4" y1="315.5" x2="615.1999999999999" y2="315.5" stroke="#111" stroke-width="1.9" />
<rect x="596.35" y="292.25" width="17.899999999999956" height="103.35000000000001" fill="none" stroke="#111" stroke-width="1.9"/>
<line x1="490.2" y1="285.3" x2="490.2" y2="396.40000000000003" stroke="#222" stroke-width="1.6" />
<line x1="485.2" y1="291.3" x2="490.2" y2="291.3" stroke="#111" stroke-width="1.6" />
<text x="484.0" y="293.7" font-size="8.4" font-weight="bold" text-anchor="end" fill="#111" >100</text>
<line x1="485.2" y1="312.2" x2="490.2" y2="312.2" stroke="#111" stroke-width="1.6" />
<text x="484.0" y="314.59999999999997" font-size="8.4" font-weight="bold" text-anchor="end" fill="#111" >80</text>
<line x1="485.2" y1="333.0" x2="490.2" y2="333.0" stroke="#111" stroke-width="1.6" />
<text x="484.0" y="335.4" font-size="8.4" font-weight="bold" text-anchor="end" fill="#111" >60</text>
<line x1="485.2" y1="353.8" x2="490.2" y2="353.8" stroke="#111" stroke-width="1.6" />
<text x="484.0" y="356.2" font-size="8.4" font-weight="bold" text-anchor="end" fill="#111" >40</text>
<line x1="485.2" y1="374.7" x2="490.2" y2="374.7" stroke="#111" stroke-width="1.6" />
<text x="484.0" y="377.09999999999997" font-size="8.4" font-weight="bold" text-anchor="end" fill="#111" >20</text>
<line x1="485.2" y1="395.6" x2="490.2" y2="395.6" stroke="#111" stroke-width="1.6" />
<text x="484.0" y="398.0" font-size="8.4" font-weight="bold" text-anchor="end" fill="#111" >0</text>
<line x1="489.4" y1="395.6" x2="626.8" y2="395.6" stroke="#222" stroke-width="1.6" />
<line x1="511.2" y1="395.6" x2="511.2" y2="400.20000000000005" stroke="#111" stroke-width="1.6" />
<line x1="542.6" y1="395.6" x2="542.6" y2="400.20000000000005" stroke="#111" stroke-width="1.6" />
<line x1="574.1" y1="395.6" x2="574.1" y2="400.20000000000005" stroke="#111" stroke-width="1.6" />
<line x1="605.3" y1="395.6" x2="605.3" y2="400.20000000000005" stroke="#111" stroke-width="1.6" />
<text transform="translate(465.3,339.2) rotate(-90)" font-size="9.15" font-weight="bold" text-anchor="middle" fill="#111">Percent Allelic Distribution</text>
<rect x="625.8" y="289.7" width="10.5" height="5.199999999999999" fill="#d4d4d4" stroke="#111" stroke-width="1.4"/>
<rect x="625.8" y="304.7" width="10.5" height="5.199999999999999" fill="#c8dcf8" stroke="#111" stroke-width="1.4"/>
<rect x="625.8" y="318.5" width="10.5" height="5.199999999999999" fill="#a8dca4" stroke="#111" stroke-width="1.4"/>
<text x="643.4" y="295.6" font-size="9.3" text-anchor="start" fill="#222" stroke="#222" stroke-width="0.25" >Wild Type</text>
<text x="643.4" y="310.3" font-size="9.3" text-anchor="start" fill="#222" stroke="#222" stroke-width="0.25" >INDEL</text>
<text x="643.4" y="324.2" font-size="9.3" text-anchor="start" fill="#222" stroke="#222" stroke-width="0.25" >Knock-in</text>
<text transform="translate(513.0,408.8) rotate(-45)" font-size="8.2" font-weight="bold" text-anchor="end" fill="#111">Mock</text>
<text transform="translate(544.4,408.8) rotate(-45)" font-size="8.2" font-weight="bold" text-anchor="end" fill="#111">10-1074+Ibalizumab</text>
<text transform="translate(575.9,408.8) rotate(-45)" font-size="8.2" font-weight="bold" text-anchor="end" fill="#111">Mock</text>
<text transform="translate(607.0999999999999,408.8) rotate(-45)" font-size="8.2" font-weight="bold" text-anchor="end" fill="#111">10-1074+Ibalizumab</text>
<line x1="549.9" y1="465.5" x2="622.9" y2="465.5" stroke="#111" stroke-width="2.4" />
<text x="586.4" y="476" font-size="9" text-anchor="middle" fill="#222" stroke="#222" stroke-width="0.25" >0.5µM AZD</text>
<text x="6" y="493.5" font-size="16.5" font-weight="bold" text-anchor="start" fill="#000" >g</text>
<text x="94.8" y="508.5" font-size="10.65" font-weight="bold" text-anchor="middle" fill="#111" >CFU Colony Number</text>
<rect x="63.95" y="613.2" width="10.900000000000006" height="12.299999999999955" fill="#000" stroke="none"/>
<rect x="63.95" y="543.9" width="10.900000000000006" height="69.30000000000007" fill="#808080" stroke="none"/>
<rect x="63.95" y="528.5" width="10.900000000000006" height="15.399999999999977" fill="#d8d8d8" stroke="none"/>
<line x1="63.95" y1="613.2" x2="74.85000000000001" y2="613.2" stroke="#111" stroke-width="1.9" />
<line x1="63.95" y1="543.9" x2="74.85000000000001" y2="543.9" stroke="#111" stroke-width="1.9" />
<rect x="64.9" y="529.45" width="9.000000000000005" height="96.05" fill="none" stroke="#111" stroke-width="1.9"/>
<rect x="81.05" y="618.6" width="10.900000000000006" height="6.899999999999977" fill="#000" stroke="none"/>
<rect x="81.05" y="567.4" width="10.900000000000006" height="51.200000000000045" fill="#808080" stroke="none"/>
<rect x="81.05" y="553" width="10.900000000000006" height="14.399999999999977" fill="#d8d8d8" stroke="none"/>
<line x1="81.05" y1="618.6" x2="91.95" y2="618.6" stroke="#111" stroke-width="1.9" />
<line x1="81.05" y1="567.4" x2="91.95" y2="567.4" stroke="#111" stroke-width="1.9" />
<rect x="82.0" y="553.95" width="9.000000000000005" height="71.55" fill="none" stroke="#111" stroke-width="1.9"/>
<rect x="98.14999999999999" y="612.1" width="10.900000000000006" height="13.399999999999977" fill="#000" stroke="none"/>
<rect x="98.14999999999999" y="548.1" width="10.900000000000006" height="64.0" fill="#808080" stroke="none"/>
<rect x="98.14999999999999" y="532.1" width="10.900000000000006" height="16.0" fill="#d8d8d8" stroke="none"/>
<line x1="98.14999999999999" y1="612.1" x2="109.05" y2="612.1" stroke="#111" stroke-width="1.9" />
<line x1="98.14999999999999" y1="548.1" x2="109.05" y2="548.1" stroke="#111" stroke-width="1.9" />
<rect x="99.1" y="533.0500000000001" width="9.000000000000005" height="92.44999999999997" fill="none" stroke="#111" stroke-width="1.9"/>
<rect x="115.05" y="619.9" width="10.900000000000006" height="5.600000000000023" fill="#000" stroke="none"/>
<rect x="115.05" y="570.5" width="10.900000000000006" height="49.39999999999998" fill="#808080" stroke="none"/>
<rect x="115.05" y="556" width="10.900000000000006" height="14.5" fill="#d8d8d8" stroke="none"/>
<line x1="115.05" y1="619.9" x2="125.95" y2="619.9" stroke="#111" stroke-width="1.9" />
<line x1="115.05" y1="570.5" x2="125.95" y2="570.5" stroke="#111" stroke-width="1.9" />
<rect x="116.0" y="556.95" width="9.000000000000005" height="68.55" fill="none" stroke="#111" stroke-width="1.9"/>
<line x1="69.4" y1="525.4" x2="69.4" y2="530.7" stroke="#1a1a1a" stroke-width="1.0" />
<line x1="66.65" y1="525.4" x2="72.15" y2="525.4" stroke="#1a1a1a" stroke-width="1.0" />
<line x1="66.65" y1="530.7" x2="72.15" y2="530.7" stroke="#1a1a1a" stroke-width="1.0" />
<line x1="69.4" y1="543.9" x2="69.4" y2="543.9" stroke="#1a1a1a" stroke-width="1.0" />
<line x1="66.65" y1="543.9" x2="72.15" y2="543.9" stroke="#1a1a1a" stroke-width="1.0" />
<line x1="66.65" y1="543.9" x2="72.15" y2="543.9" stroke="#1a1a1a" stroke-width="1.0" />
<line x1="69.4" y1="609" x2="69.4" y2="613.2" stroke="#1a1a1a" stroke-width="1.0" />
<line x1="66.65" y1="609" x2="72.15" y2="609" stroke="#1a1a1a" stroke-width="1.0" />
<line x1="66.65" y1="613.2" x2="72.15" y2="613.2" stroke="#1a1a1a" stroke-width="1.0" />
<line x1="86.5" y1="551.7" x2="86.5" y2="553" stroke="#1a1a1a" stroke-width="1.0" />
<line x1="83.75" y1="551.7" x2="89.25" y2="551.7" stroke="#1a1a1a" stroke-width="1.0" />
<line x1="83.75" y1="553" x2="89.25" y2="553" stroke="#1a1a1a" stroke-width="1.0" />
<line x1="86.5" y1="566.9" x2="86.5" y2="567.4" stroke="#1a1a1a" stroke-width="1.0" />
<line x1="83.75" y1="566.9" x2="89.25" y2="566.9" stroke="#1a1a1a" stroke-width="1.0" />
<line x1="83.75" y1="567.4" x2="89.25" y2="567.4" stroke="#1a1a1a" stroke-width="1.0" />
<line x1="86.5" y1="618.6" x2="86.5" y2="622" stroke="#1a1a1a" stroke-width="1.0" />
<line x1="83.75" y1="618.6" x2="89.25" y2="618.6" stroke="#1a1a1a" stroke-width="1.0" />
<line x1="83.75" y1="622" x2="89.25" y2="622" stroke="#1a1a1a" stroke-width="1.0" />
<line x1="103.6" y1="527" x2="103.6" y2="536" stroke="#1a1a1a" stroke-width="1.0" />
<line x1="100.85" y1="527" x2="106.35" y2="527" stroke="#1a1a1a" stroke-width="1.0" />
<line x1="100.85" y1="536" x2="106.35" y2="536" stroke="#1a1a1a" stroke-width="1.0" />
<line x1="103.6" y1="545.7" x2="103.6" y2="550" stroke="#1a1a1a" stroke-width="1.0" />
<line x1="100.85" y1="545.7" x2="106.35" y2="545.7" stroke="#1a1a1a" stroke-width="1.0" />
<line x1="100.85" y1="550" x2="106.35" y2="550" stroke="#1a1a1a" stroke-width="1.0" />
<line x1="103.6" y1="606.3" x2="103.6" y2="612.1" stroke="#1a1a1a" stroke-width="1.0" />
<line x1="100.85" y1="606.3" x2="106.35" y2="606.3" stroke="#1a1a1a" stroke-width="1.0" />
<line x1="100.85" y1="612.1" x2="106.35" y2="612.1" stroke="#1a1a1a" stroke-width="1.0" />
<line x1="120.5" y1="554.8" x2="120.5" y2="556" stroke="#1a1a1a" stroke-width="1.0" />
<line x1="117.75" y1="554.8" x2="123.25" y2="554.8" stroke="#1a1a1a" stroke-width="1.0" />
<line x1="117.75" y1="556" x2="123.25" y2="556" stroke="#1a1a1a" stroke-width="1.0" />
<line x1="120.5" y1="563.8" x2="120.5" y2="575.2" stroke="#1a1a1a" stroke-width="1.0" />
<line x1="117.75" y1="563.8" x2="123.25" y2="563.8" stroke="#1a1a1a" stroke-width="1.0" />
<line x1="117.75" y1="575.2" x2="123.25" y2="575.2" stroke="#1a1a1a" stroke-width="1.0" />
<line x1="120.5" y1="615.4" x2="120.5" y2="619.9" stroke="#1a1a1a" stroke-width="1.0" />
<line x1="117.75" y1="615.4" x2="123.25" y2="615.4" stroke="#1a1a1a" stroke-width="1.0" />
<line x1="117.75" y1="619.9" x2="123.25" y2="619.9" stroke="#1a1a1a" stroke-width="1.0" />
<line x1="58.4" y1="514" x2="58.4" y2="626.3" stroke="#222" stroke-width="1.6" />
<line x1="53.4" y1="522.6" x2="58.4" y2="522.6" stroke="#111" stroke-width="1.6" />
<text x="52.199999999999996" y="525.0" font-size="8.4" font-weight="bold" text-anchor="end" fill="#111" >140</text>
<line x1="53.4" y1="537.3" x2="58.4" y2="537.3" stroke="#111" stroke-width="1.6" />
<text x="52.199999999999996" y="539.6999999999999" font-size="8.4" font-weight="bold" text-anchor="end" fill="#111" >120</text>
<line x1="53.4" y1="552" x2="58.4" y2="552" stroke="#111" stroke-width="1.6" />
<text x="52.199999999999996" y="554.4" font-size="8.4" font-weight="bold" text-anchor="end" fill="#111" >100</text>
<line x1="53.4" y1="566.7" x2="58.4" y2="566.7" stroke="#111" stroke-width="1.6" />
<text x="52.199999999999996" y="569.1" font-size="8.4" font-weight="bold" text-anchor="end" fill="#111" >80</text>
<line x1="53.4" y1="581.4" x2="58.4" y2="581.4" stroke="#111" stroke-width="1.6" />
<text x="52.199999999999996" y="583.8" font-size="8.4" font-weight="bold" text-anchor="end" fill="#111" >60</text>
<line x1="53.4" y1="596.1" x2="58.4" y2="596.1" stroke="#111" stroke-width="1.6" />
<text x="52.199999999999996" y="598.5" font-size="8.4" font-weight="bold" text-anchor="end" fill="#111" >40</text>
<line x1="53.4" y1="610.8" x2="58.4" y2="610.8" stroke="#111" stroke-width="1.6" />
<text x="52.199999999999996" y="613.1999999999999" font-size="8.4" font-weight="bold" text-anchor="end" fill="#111" >20</text>
<line x1="53.4" y1="625.5" x2="58.4" y2="625.5" stroke="#111" stroke-width="1.6" />
<text x="52.199999999999996" y="627.9" font-size="8.4" font-weight="bold" text-anchor="end" fill="#111" >0</text>
<line x1="57.6" y1="625.5" x2="132.2" y2="625.5" stroke="#222" stroke-width="1.6" />
<line x1="69.4" y1="625.5" x2="69.4" y2="630.1" stroke="#111" stroke-width="1.6" />
<line x1="86.5" y1="625.5" x2="86.5" y2="630.1" stroke="#111" stroke-width="1.6" />
<line x1="103.6" y1="625.5" x2="103.6" y2="630.1" stroke="#111" stroke-width="1.6" />
<line x1="120.5" y1="625.5" x2="120.5" y2="630.1" stroke="#111" stroke-width="1.6" />
<text transform="translate(22.2,569.4) rotate(-90)" font-size="9.2" font-weight="bold" text-anchor="middle" fill="#111">Number of Colonies</text>
<text transform="translate(33.6,570) rotate(-90)" font-size="9.2" font-weight="bold" text-anchor="middle" fill="#111">(Per 500 Cells)</text>
<rect x="144" y="525.2" width="10.5" height="5.3999999999999995" fill="#d8d8d8" stroke="#111" stroke-width="1.4"/>
<rect x="144" y="540.3000000000001" width="10.5" height="5.3999999999999995" fill="#808080" stroke="#111" stroke-width="1.4"/>
<rect x="144" y="556.5" width="10.5" height="5.3999999999999995" fill="#000" stroke="#111" stroke-width="1.4"/>
<text x="161" y="531.3" font-size="9.05" text-anchor="start" fill="#222" stroke="#222" stroke-width="0.25" >BFU-E</text>
<text x="161" y="546.3" font-size="9.05" text-anchor="start" fill="#222" stroke="#222" stroke-width="0.25" >CFU-GM</text>
<text x="161" y="562.4" font-size="9.05" text-anchor="start" fill="#222" stroke="#222" stroke-width="0.25" >CFU-GEMM</text>
<text transform="translate(71.0,638.9) rotate(-45)" font-size="8.2" font-weight="bold" text-anchor="end" fill="#111">Mock</text>
<text transform="translate(88.1,638.9) rotate(-45)" font-size="8.2" font-weight="bold" text-anchor="end" fill="#111">10-1074+Ibalizumab</text>
<text transform="translate(105.19999999999999,638.9) rotate(-45)" font-size="8.2" font-weight="bold" text-anchor="end" fill="#111">Mock</text>
<text transform="translate(122.1,638.9) rotate(-45)" font-size="8.2" font-weight="bold" text-anchor="end" fill="#111">10-1074+Ibalizumab</text>
<line x1="86.2" y1="691.3" x2="127.7" y2="691.3" stroke="#111" stroke-width="2.4" />
<text x="108.2" y="703.8" font-size="9" text-anchor="middle" fill="#222" stroke="#222" stroke-width="0.25" >0.5µM AZD</text>
<text x="209.5" y="491.8" font-size="16.5" font-weight="bold" text-anchor="start" fill="#000" >h</text>
<text x="287.8" y="508.5" font-size="10.65" font-weight="bold" text-anchor="middle" fill="#111" >CFU Colony Distribution</text>
<rect x="257.05" y="613.2" width="10.899999999999977" height="12.5" fill="#000" stroke="none"/>
<rect x="257.05" y="541.7" width="10.899999999999977" height="71.5" fill="#808080" stroke="none"/>
<rect x="257.05" y="525.4" width="10.899999999999977" height="16.300000000000068" fill="#d8d8d8" stroke="none"/>
<line x1="257.05" y1="613.2" x2="267.95" y2="613.2" stroke="#111" stroke-width="1.9" />
<line x1="257.05" y1="541.7" x2="267.95" y2="541.7" stroke="#111" stroke-width="1.9" />
<rect x="258.0" y="526.35" width="8.999999999999977" height="99.35000000000007" fill="none" stroke="#111" stroke-width="1.9"/>
<rect x="273.85" y="615.9" width="10.899999999999977" height="9.800000000000068" fill="#000" stroke="none"/>
<rect x="273.85" y="546.3" width="10.899999999999977" height="69.60000000000002" fill="#808080" stroke="none"/>
<rect x="273.85" y="525.4" width="10.899999999999977" height="20.899999999999977" fill="#d8d8d8" stroke="none"/>
<line x1="273.85" y1="615.9" x2="284.75" y2="615.9" stroke="#111" stroke-width="1.9" />
<line x1="273.85" y1="546.3" x2="284.75" y2="546.3" stroke="#111" stroke-width="1.9" />
<rect x="274.8" y="526.35" width="8.999999999999977" height="99.35000000000007" fill="none" stroke="#111" stroke-width="1.9"/>
<rect x="290.85" y="611.7" width="10.899999999999977" height="14.0" fill="#000" stroke="none"/>
<rect x="290.85" y="542.6" width="10.899999999999977" height="69.10000000000002" fill="#808080" stroke="none"/>
<rect x="290.85" y="525.4" width="10.899999999999977" height="17.200000000000045" fill="#d8d8d8" stroke="none"/>
<line x1="290.85" y1="611.7" x2="301.75" y2="611.7" stroke="#111" stroke-width="1.9" />
<line x1="290.85" y1="542.6" x2="301.75" y2="542.6" stroke="#111" stroke-width="1.9" />
<rect x="291.8" y="526.35" width="8.999999999999977" height="99.35000000000007" fill="none" stroke="#111" stroke-width="1.9"/>
<rect x="307.85" y="617.7" width="10.899999999999977" height="8.0" fill="#000" stroke="none"/>
<rect x="307.85" y="546.3" width="10.899999999999977" height="71.40000000000009" fill="#808080" stroke="none"/>
<rect x="307.85" y="525.4" width="10.899999999999977" height="20.899999999999977" fill="#d8d8d8" stroke="none"/>
<line x1="307.85" y1="617.7" x2="318.75" y2="617.7" stroke="#111" stroke-width="1.9" />
<line x1="307.85" y1="546.3" x2="318.75" y2="546.3" stroke="#111" stroke-width="1.9" />
<rect x="308.8" y="526.35" width="8.999999999999977" height="99.35000000000007" fill="none" stroke="#111" stroke-width="1.9"/>
<line x1="262.5" y1="523.1" x2="262.5" y2="527.5" stroke="#1a1a1a" stroke-width="1.0" />
<line x1="259.75" y1="523.1" x2="265.25" y2="523.1" stroke="#1a1a1a" stroke-width="1.0" />
<line x1="259.75" y1="527.5" x2="265.25" y2="527.5" stroke="#1a1a1a" stroke-width="1.0" />
<line x1="262.5" y1="535.4" x2="262.5" y2="546.3" stroke="#1a1a1a" stroke-width="1.0" />
<line x1="259.75" y1="535.4" x2="265.25" y2="535.4" stroke="#1a1a1a" stroke-width="1.0" />
<line x1="259.75" y1="546.3" x2="265.25" y2="546.3" stroke="#1a1a1a" stroke-width="1.0" />
<line x1="262.5" y1="609.6" x2="262.5" y2="613.2" stroke="#1a1a1a" stroke-width="1.0" />
<line x1="259.75" y1="609.6" x2="265.25" y2="609.6" stroke="#1a1a1a" stroke-width="1.0" />
<line x1="259.75" y1="613.2" x2="265.25" y2="613.2" stroke="#1a1a1a" stroke-width="1.0" />
<line x1="279.3" y1="524" x2="279.3" y2="525.4" stroke="#1a1a1a" stroke-width="1.0" />
<line x1="276.55" y1="524" x2="282.05" y2="524" stroke="#1a1a1a" stroke-width="1.0" />
<line x1="276.55" y1="525.4" x2="282.05" y2="525.4" stroke="#1a1a1a" stroke-width="1.0" />
<line x1="279.3" y1="543.4" x2="279.3" y2="546.3" stroke="#1a1a1a" stroke-width="1.0" />
<line x1="276.55" y1="543.4" x2="282.05" y2="543.4" stroke="#1a1a1a" stroke-width="1.0" />
<line x1="276.55" y1="546.3" x2="282.05" y2="546.3" stroke="#1a1a1a" stroke-width="1.0" />
<line x1="279.3" y1="614.8" x2="279.3" y2="615.9" stroke="#1a1a1a" stroke-width="1.0" />
<line x1="276.55" y1="614.8" x2="282.05" y2="614.8" stroke="#1a1a1a" stroke-width="1.0" />
<line x1="276.55" y1="615.9" x2="282.05" y2="615.9" stroke="#1a1a1a" stroke-width="1.0" />
<line x1="296.3" y1="522.7" x2="296.3" y2="528.2" stroke="#1a1a1a" stroke-width="1.0" />
<line x1="293.55" y1="522.7" x2="299.05" y2="522.7" stroke="#1a1a1a" stroke-width="1.0" />
<line x1="293.55" y1="528.2" x2="299.05" y2="528.2" stroke="#1a1a1a" stroke-width="1.0" />
<line x1="296.3" y1="535.4" x2="296.3" y2="549.3" stroke="#1a1a1a" stroke-width="1.0" />
<line x1="293.55" y1="535.4" x2="299.05" y2="535.4" stroke="#1a1a1a" stroke-width="1.0" />
<line x1="293.55" y1="549.3" x2="299.05" y2="549.3" stroke="#1a1a1a" stroke-width="1.0" />
<line x1="296.3" y1="607.6" x2="296.3" y2="611.7" stroke="#1a1a1a" stroke-width="1.0" />
<line x1="293.55" y1="607.6" x2="299.05" y2="607.6" stroke="#1a1a1a" stroke-width="1.0" />
<line x1="293.55" y1="611.7" x2="299.05" y2="611.7" stroke="#1a1a1a" stroke-width="1.0" />
<line x1="313.3" y1="523.5" x2="313.3" y2="525.4" stroke="#1a1a1a" stroke-width="1.0" />
<line x1="310.55" y1="523.5" x2="316.05" y2="523.5" stroke="#1a1a1a" stroke-width="1.0" />
<line x1="310.55" y1="525.4" x2="316.05" y2="525.4" stroke="#1a1a1a" stroke-width="1.0" />
<line x1="313.3" y1="543.4" x2="313.3" y2="548" stroke="#1a1a1a" stroke-width="1.0" />
<line x1="310.55" y1="543.4" x2="316.05" y2="543.4" stroke="#1a1a1a" stroke-width="1.0" />
<line x1="310.55" y1="548" x2="316.05" y2="548" stroke="#1a1a1a" stroke-width="1.0" />
<line x1="313.3" y1="613.6" x2="313.3" y2="617.7" stroke="#1a1a1a" stroke-width="1.0" />
<line x1="310.55" y1="613.6" x2="316.05" y2="613.6" stroke="#1a1a1a" stroke-width="1.0" />
<line x1="310.55" y1="617.7" x2="316.05" y2="617.7" stroke="#1a1a1a" stroke-width="1.0" />
<line x1="251.6" y1="515" x2="251.6" y2="626.5" stroke="#222" stroke-width="1.6" />
<line x1="246.6" y1="525.4" x2="251.6" y2="525.4" stroke="#111" stroke-width="1.6" />
<text x="245.4" y="527.8" font-size="8.4" font-weight="bold" text-anchor="end" fill="#111" >100</text>
<line x1="246.6" y1="545.5" x2="251.6" y2="545.5" stroke="#111" stroke-width="1.6" />
<text x="245.4" y="547.9" font-size="8.4" font-weight="bold" text-anchor="end" fill="#111" >80</text>
<line x1="246.6" y1="565.6" x2="251.6" y2="565.6" stroke="#111" stroke-width="1.6" />
<text x="245.4" y="568.0" font-size="8.4" font-weight="bold" text-anchor="end" fill="#111" >60</text>
<line x1="246.6" y1="585.6" x2="251.6" y2="585.6" stroke="#111" stroke-width="1.6" />
<text x="245.4" y="588.0" font-size="8.4" font-weight="bold" text-anchor="end" fill="#111" >40</text>
<line x1="246.6" y1="605.6" x2="251.6" y2="605.6" stroke="#111" stroke-width="1.6" />
<text x="245.4" y="608.0" font-size="8.4" font-weight="bold" text-anchor="end" fill="#111" >20</text>
<line x1="246.6" y1="625.7" x2="251.6" y2="625.7" stroke="#111" stroke-width="1.6" />
<text x="245.4" y="628.1" font-size="8.4" font-weight="bold" text-anchor="end" fill="#111" >0</text>
<line x1="250.79999999999998" y1="625.7" x2="325" y2="625.7" stroke="#222" stroke-width="1.6" />
<line x1="262.5" y1="625.7" x2="262.5" y2="630.3000000000001" stroke="#111" stroke-width="1.6" />
<line x1="279.3" y1="625.7" x2="279.3" y2="630.3000000000001" stroke="#111" stroke-width="1.6" />
<line x1="296.3" y1="625.7" x2="296.3" y2="630.3000000000001" stroke="#111" stroke-width="1.6" />
<line x1="313.3" y1="625.7" x2="313.3" y2="630.3000000000001" stroke="#111" stroke-width="1.6" />
<text transform="translate(225.3,569.7) rotate(-90)" font-size="9.2" font-weight="bold" text-anchor="middle" fill="#111">Percent of Colonies</text>
<rect x="331.3" y="521.9000000000001" width="10.5" height="5.3999999999999995" fill="#d8d8d8" stroke="#111" stroke-width="1.4"/>
<rect x="331.3" y="536.9000000000001" width="10.5" height="5.3999999999999995" fill="#808080" stroke="#111" stroke-width="1.4"/>
<rect x="331.3" y="551.9000000000001" width="10.5" height="5.3999999999999995" fill="#000" stroke="#111" stroke-width="1.4"/>
<text x="349.4" y="528" font-size="9.05" text-anchor="start" fill="#222" stroke="#222" stroke-width="0.25" >BFU-E</text>
<text x="349.4" y="543" font-size="9.05" text-anchor="start" fill="#222" stroke="#222" stroke-width="0.25" >CFU-GM</text>
<text x="349.4" y="558" font-size="9.05" text-anchor="start" fill="#222" stroke="#222" stroke-width="0.25" >CFU-GEMM</text>
<text transform="translate(264.1,638.9) rotate(-45)" font-size="8.2" font-weight="bold" text-anchor="end" fill="#111">Mock</text>
<text transform="translate(280.90000000000003,638.9) rotate(-45)" font-size="8.2" font-weight="bold" text-anchor="end" fill="#111">10-1074+Ibalizumab</text>
<text transform="translate(297.90000000000003,638.9) rotate(-45)" font-size="8.2" font-weight="bold" text-anchor="end" fill="#111">Mock</text>
<text transform="translate(314.90000000000003,638.9) rotate(-45)" font-size="8.2" font-weight="bold" text-anchor="end" fill="#111">10-1074+Ibalizumab</text>
<line x1="279.6" y1="691.3" x2="320.9" y2="691.3" stroke="#111" stroke-width="2.4" />
<text x="301.2" y="703.8" font-size="9" text-anchor="middle" fill="#222" stroke="#222" stroke-width="0.25" >0.5µM AZD</text>
<text x="408.5" y="491.8" font-size="16.5" font-weight="bold" text-anchor="start" fill="#000" >i</text>
<text x="525.8" y="508.5" font-size="10.65" font-weight="bold" text-anchor="middle" fill="#111" >CFU Colony Genotypes</text>
<rect x="471.5" y="518.1" width="43.39999999999998" height="25.5" fill="#89bbfe"/>
<rect x="471.5" y="543.6" width="43.39999999999998" height="33.10000000000002" fill="#5471fe"/>
<rect x="471.5" y="576.7" width="43.39999999999998" height="61.0" fill="#7a30c0"/>
<rect x="471.5" y="637.7" width="43.39999999999998" height="1.7999999999999545" fill="#e0502a"/>
<rect x="536.9" y="518.1" width="43.39999999999998" height="62.299999999999955" fill="#89bbfe"/>
<rect x="536.9" y="580.4" width="43.39999999999998" height="17.899999999999977" fill="#5471fe"/>
<rect x="536.9" y="598.3" width="43.39999999999998" height="29.40000000000009" fill="#7a30c0"/>
<rect x="536.9" y="627.7" width="43.39999999999998" height="11.799999999999955" fill="#ff8c0a"/>
<line x1="449.7" y1="516" x2="449.7" y2="640.3" stroke="#222" stroke-width="1.6" />
<line x1="444.7" y1="518.1" x2="449.7" y2="518.1" stroke="#111" stroke-width="1.6" />
<text x="443.5" y="520.5" font-size="8.4" font-weight="bold" text-anchor="end" fill="#111" >100</text>
<line x1="444.7" y1="542.4" x2="449.7" y2="542.4" stroke="#111" stroke-width="1.6" />
<text x="443.5" y="544.8" font-size="8.4" font-weight="bold" text-anchor="end" fill="#111" >80</text>
<line x1="444.7" y1="566.7" x2="449.7" y2="566.7" stroke="#111" stroke-width="1.6" />
<text x="443.5" y="569.1" font-size="8.4" font-weight="bold" text-anchor="end" fill="#111" >60</text>
<line x1="444.7" y1="591.0" x2="449.7" y2="591.0" stroke="#111" stroke-width="1.6" />
<text x="443.5" y="593.4" font-size="8.4" font-weight="bold" text-anchor="end" fill="#111" >40</text>
<line x1="444.7" y1="615.2" x2="449.7" y2="615.2" stroke="#111" stroke-width="1.6" />
<text x="443.5" y="617.6" font-size="8.4" font-weight="bold" text-anchor="end" fill="#111" >20</text>
<line x1="444.7" y1="639.5" x2="449.7" y2="639.5" stroke="#111" stroke-width="1.6" />
<text x="443.5" y="641.9" font-size="8.4" font-weight="bold" text-anchor="end" fill="#111" >0</text>
<line x1="448.9" y1="639.5" x2="602.1" y2="639.5" stroke="#222" stroke-width="1.6" />
<line x1="493.2" y1="639.5" x2="493.2" y2="644.1" stroke="#111" stroke-width="1.6" />
<line x1="558.6" y1="639.5" x2="558.6" y2="644.1" stroke="#111" stroke-width="1.6" />
<text transform="translate(423,577.1) rotate(-90)" font-size="9.3" font-weight="bold" text-anchor="middle" fill="#111">Percent of Colonies</text>
<text x="457.6" y="518.3" font-size="8.5" text-anchor="start" fill="#222" stroke="#222" stroke-width="0.25" >n =</text>
<text x="493.2" y="518.3" font-size="8.5" text-anchor="middle" fill="#222" stroke="#222" stroke-width="0.25" >77</text>
<text x="558.6" y="518.3" font-size="8.5" text-anchor="middle" fill="#222" stroke="#222" stroke-width="0.25" >53</text>
<rect x="601.8" y="525.7" width="11.600000000000023" height="5.7999999999999545" fill="#89bbfe"/>
<text x="620.4" y="531.7" font-size="9.3" text-anchor="start" fill="#222" stroke="#222" stroke-width="0.25" >KI/KI</text>
<rect x="601.8" y="541.2" width="11.600000000000023" height="5.7999999999999545" fill="#5471fe"/>
<text x="620.4" y="547.2" font-size="9.3" text-anchor="start" fill="#222" stroke="#222" stroke-width="0.25" >INDEL/KI</text>
<rect x="601.8" y="555.6" width="11.600000000000023" height="5.7999999999999545" fill="#7a30c0"/>
<text x="620.4" y="561.6" font-size="9.3" text-anchor="start" fill="#222" stroke="#222" stroke-width="0.25" >INDEL/INDEL</text>
<rect x="601.8" y="570.2" width="11.600000000000023" height="5.7999999999999545" fill="#6b0000"/>
<text x="620.4" y="576.2" font-size="9.3" text-anchor="start" fill="#222" stroke="#222" stroke-width="0.25" >WT/KI</text>
<rect x="601.8" y="584.6" width="11.600000000000023" height="5.7999999999999545" fill="#e0502a"/>
<text x="620.4" y="590.6" font-size="9.3" text-anchor="start" fill="#222" stroke="#222" stroke-width="0.25" >WT/INDEL</text>
<rect x="601.8" y="600" width="11.600000000000023" height="5.7999999999999545" fill="#ff8c0a"/>
<text x="620.4" y="606" font-size="9.3" text-anchor="start" fill="#222" stroke="#222" stroke-width="0.25" >WT/WT</text>
<text transform="translate(495.2,653) rotate(-45)" font-size="8.2" font-weight="bold" text-anchor="end" fill="#111">10-1074+Ibalizumab</text>
<text transform="translate(560.6,653) rotate(-45)" font-size="8.2" font-weight="bold" text-anchor="end" fill="#111">10-1074+Ibalizumab</text>
<line x1="532.2" y1="703.6" x2="572.8" y2="703.6" stroke="#111" stroke-width="2.4" />
<text x="553.5" y="717.3" font-size="9" text-anchor="middle" fill="#222" stroke="#222" stroke-width="0.25" >0.5µM AZD</text>
</svg>
</body></html>
